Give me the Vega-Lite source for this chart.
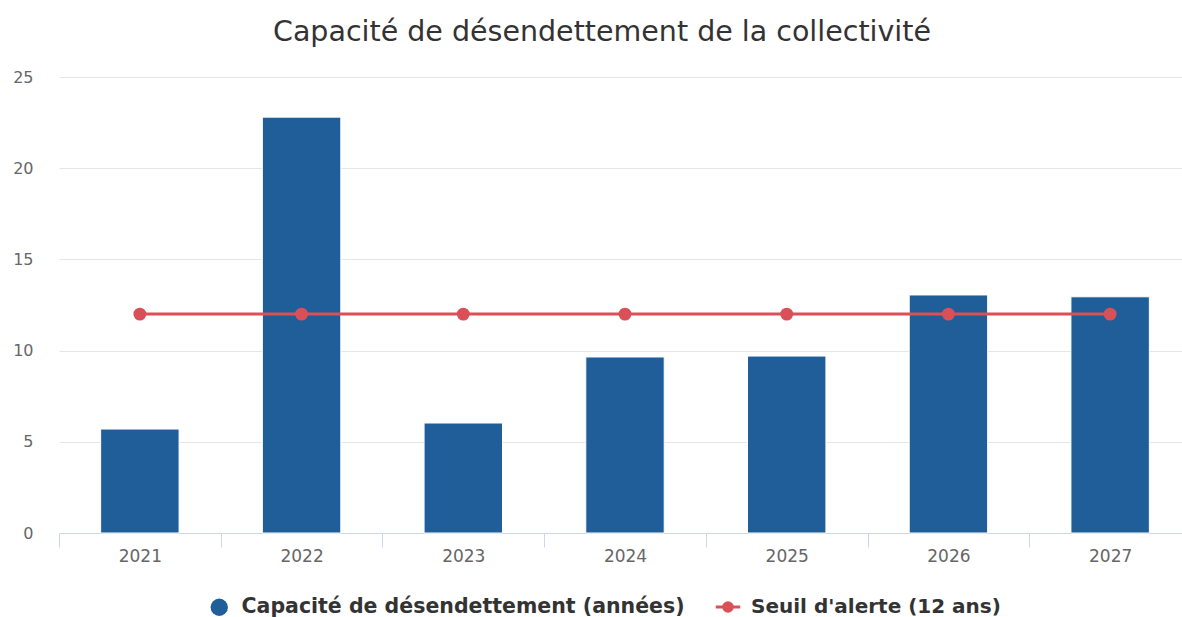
{
  "$schema": "https://vega.github.io/schema/vega-lite/v6.json",
  "autosize": {"type": "none"},
  "width": 1132,
  "height": 456,
  "padding": {"left": 59, "top": 77, "right": 0, "bottom": 84},
  "background": "#ffffff",
  "title": {
    "text": "Capacité de désendettement de la collectivité",
    "font": "DejaVu Sans",
    "fontSize": 28.5,
    "fontWeight": "normal",
    "color": "#333333",
    "anchor": "middle",
    "dx": -23,
    "offset": 23
  },
  "config": {
    "view": {"stroke": null},
    "font": "DejaVu Sans"
  },
  "datasets": {
    "capacite": [
      {"annee": "2021", "valeur": 5.7, "serie": "Capacité de désendettement (années)"},
      {"annee": "2022", "valeur": 22.8, "serie": "Capacité de désendettement (années)"},
      {"annee": "2023", "valeur": 6.03, "serie": "Capacité de désendettement (années)"},
      {"annee": "2024", "valeur": 9.65, "serie": "Capacité de désendettement (années)"},
      {"annee": "2025", "valeur": 9.7, "serie": "Capacité de désendettement (années)"},
      {"annee": "2026", "valeur": 13.05, "serie": "Capacité de désendettement (années)"},
      {"annee": "2027", "valeur": 12.95, "serie": "Capacité de désendettement (années)"}
    ],
    "seuil": [
      {"annee": "2021", "valeur": 12, "serie": "Seuil d'alerte (12 ans)"},
      {"annee": "2022", "valeur": 12, "serie": "Seuil d'alerte (12 ans)"},
      {"annee": "2023", "valeur": 12, "serie": "Seuil d'alerte (12 ans)"},
      {"annee": "2024", "valeur": 12, "serie": "Seuil d'alerte (12 ans)"},
      {"annee": "2025", "valeur": 12, "serie": "Seuil d'alerte (12 ans)"},
      {"annee": "2026", "valeur": 12, "serie": "Seuil d'alerte (12 ans)"},
      {"annee": "2027", "valeur": 12, "serie": "Seuil d'alerte (12 ans)"}
    ]
  },
  "encoding": {
    "x": {
      "field": "annee",
      "type": "ordinal",
      "title": null,
      "scale": {"paddingInner": 0, "paddingOuter": 0},
      "axis": {
        "labelAngle": 0,
        "labelFontSize": 17,
        "labelColor": "#666666",
        "labelPadding": 1,
        "domainColor": "#ccd6eb",
        "domainWidth": 1,
        "tickColor": "#ccd6eb",
        "tickSize": 14,
        "tickBand": "extent",
        "grid": false
      }
    },
    "y": {
      "field": "valeur",
      "type": "quantitative",
      "title": null,
      "scale": {"domain": [0, 25], "nice": false},
      "axis": {
        "values": [0, 5, 10, 15, 20, 25],
        "labelFontSize": 16,
        "labelColor": "#666666",
        "labelPadding": 26,
        "domain": false,
        "ticks": false,
        "gridColor": "#e6e6e6",
        "gridWidth": 1
      }
    }
  },
  "layer": [
    {
      "data": {"name": "capacite"},
      "mark": {"type": "bar", "stroke": "#ffffff", "strokeWidth": 1, "width": {"band": 0.485}},
      "encoding": {
        "fill": {
          "field": "serie",
          "type": "nominal",
          "scale": {"range": ["#1f5e99"]},
          "legend": {
            "title": null,
            "orient": "none",
            "legendX": 150,
            "legendY": 520,
            "symbolType": "circle",
            "symbolSize": 300,
            "symbolStrokeWidth": 0,
            "labelOffset": 12,
            "labelFontSize": 20.5,
            "labelFontWeight": "bold",
            "labelColor": "#333333",
            "labelLimit": 600
          }
        }
      }
    },
    {
      "data": {"name": "seuil"},
      "mark": {"type": "line", "strokeWidth": 3, "point": {"filled": true, "size": 120, "color": "#d95058"}},
      "encoding": {
        "stroke": {
          "field": "serie",
          "type": "nominal",
          "scale": {"range": ["#d95058"]},
          "legend": {
            "title": null,
            "orient": "none",
            "legendX": 655,
            "legendY": 516,
            "symbolType": "M-1,0L1,0M-0.35,0A0.35,0.35 0 1,1 0.35,0A0.35,0.35 0 1,1 -0.35,0Z",
            "symbolSize": 600,
            "symbolStrokeWidth": 3,
            "symbolFillColor": "#d95058",
            "labelOffset": 9,
            "labelFontSize": 20,
            "labelFontWeight": "bold",
            "labelColor": "#333333",
            "labelLimit": 600
          }
        }
      }
    }
  ]
}
